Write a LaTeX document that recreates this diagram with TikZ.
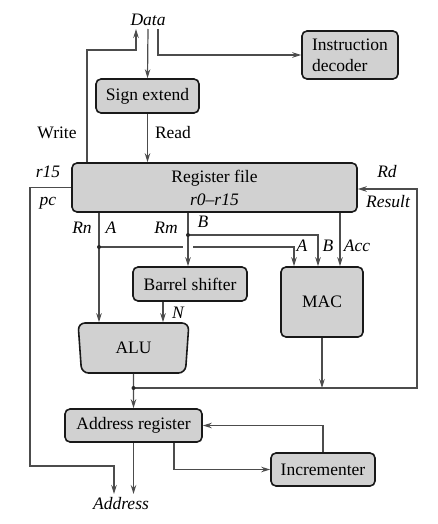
\documentclass[tikz,border=0pt]{standalone}
\usepackage{fontspec}
\setmainfont{Liberation Serif}
\usetikzlibrary{arrows.meta,shapes.geometric}
\begin{document}
\begin{tikzpicture}[x=1pt,y=-1pt,line width=1.2pt,>={Stealth[length=9pt,width=5.5pt]},
    font=\fontsize{17.5}{21}\selectfont,
    block/.style={draw=black!90,fill=black!18,line width=1.6pt,rounded corners=5pt,align=center,inner sep=0pt},
    wire/.style={draw=black!70},
    dot/.style={circle,fill=black!85,inner sep=0pt,minimum size=4pt},
    lbl/.style={font=\fontsize{17.5}{21}\selectfont\itshape,inner sep=1pt}]
  \useasboundingbox (0,0) rectangle (438,524);

  \node[block,minimum width=96pt,minimum height=48pt,align=left] at (350,55) (dec) {Instruction\\decoder};
  \node[block,minimum width=103pt,minimum height=34pt] at (147.5,96) (sign) {Sign extend};
  \node[block,minimum width=285pt,minimum height=49pt,font=\fontsize{17.5}{23}\selectfont] at (214.5,187.5) (rf) {Register file\\\textit{r0–r15}};
  \node[block,minimum width=114pt,minimum height=34pt] at (190,284) (bs) {Barrel shifter};
  \node[block,minimum width=82pt,minimum height=70pt] at (322,302) (mac) {MAC};
  \node[block,trapezium,trapezium angle=84,shape border rotate=180,trapezium stretches=true,
        minimum width=111pt,minimum height=50pt,rounded corners=7pt] at (133.5,348) (alu) {ALU};
  \node[block,minimum width=137pt,minimum height=33pt] at (133.5,425.5) (addr) {Address register};
  \node[block,minimum width=104pt,minimum height=33pt] at (323,469.5) (inc) {Incrementer};

  \node[lbl,anchor=south,inner sep=3pt] at (148,29) (data) {Data};
  \node[lbl,anchor=north,inner sep=3pt] at (121,494) (adr) {Address};

  \coordinate (wb) at (87,50);
  \coordinate (pcb) at (30,466);
  \coordinate (ja) at (99,247);
  \coordinate (jb) at (188,235);
  \coordinate (jc) at (133.5,388);
  \coordinate (g1) at (183,247);
  \coordinate (g2) at (193,247);
  \coordinate (ma) at (294,247);
  \coordinate (mb) at (318,235);
  \coordinate (acc) at (340,240);
  \coordinate (nn) at (163,300);
  \coordinate (rs) at (417,189);
  \coordinate (ib) at (174,470);

  % memory side
  \draw[wire,->] (rf.north -| wb) -- (wb) -| ([xshift=-12pt]data.south);
  \draw[wire,->] (data.south) -- (sign.north);
  \draw[wire,->] ([xshift=10pt]data.south) |- (dec.west);
  \draw[wire,->] (sign.south) -- (sign.south |- rf.north);
  \draw[wire,->] (rf.west) -| (pcb) -| ([xshift=-7pt]adr.north);

  % register file outputs
  \draw[wire,->] (rf.south -| ja) -- (ja |- alu.north);
  \draw[wire] (ja) -- (g1);
  \draw[wire,->] (g2) -- (ma) -- (ma |- mac.north);
  \draw[wire,->] (rf.south -| jb) -- (jb |- bs.north);
  \draw[wire,->] (jb) -- (mb) -- (mb |- mac.north);
  \draw[wire,->] (rf.south -| acc) -- (acc |- mac.north);
  \draw[wire,->] (bs.south -| nn) -- (nn |- alu.north);
  \node[dot] (dja) at (ja) {};
  \node[dot] (djb) at (jb) {};

  % result bus
  \draw[wire,->] (alu.south) -- (addr.north);
  \draw[wire,->] (mac.south) -- (mac.south |- jc);
  \draw[wire,->] (jc) -| (rs) -- (rs -| rf.east);
  \node[dot] (djc) at (jc) {};

  % address
  \draw[wire,->] (addr.south) -- (addr.south |- adr.north);
  \draw[wire,->] (addr.south -| ib) |- (inc.west);
  \draw[wire,->] (inc.north) |- (addr.east);

  \node at (57,133) (lw) {Write};
  \node at (173,133) (lr) {Read};
  \node[lbl] at (48,172) (l15) {r15};
  \node[lbl] at (48,203) (lpc) {pc};
  \node[lbl] at (387,172) (lrd) {Rd};
  \node[lbl] at (388,202) (lres) {Result};
  \node[lbl] at (82,228) (lrn) {Rn};
  \node[lbl] at (111,228) (la) {A};
  \node[lbl] at (166,228) (lrm) {Rm};
  \node[lbl] at (203,222) (lb) {B};
  \node[lbl] at (302,246) (lma) {A};
  \node[lbl] at (328,246) (lmb) {B};
  \node[lbl] at (357,246) (lacc) {Acc};
  \node[lbl] at (178,313) (ln) {N};
\end{tikzpicture}
\end{document}
